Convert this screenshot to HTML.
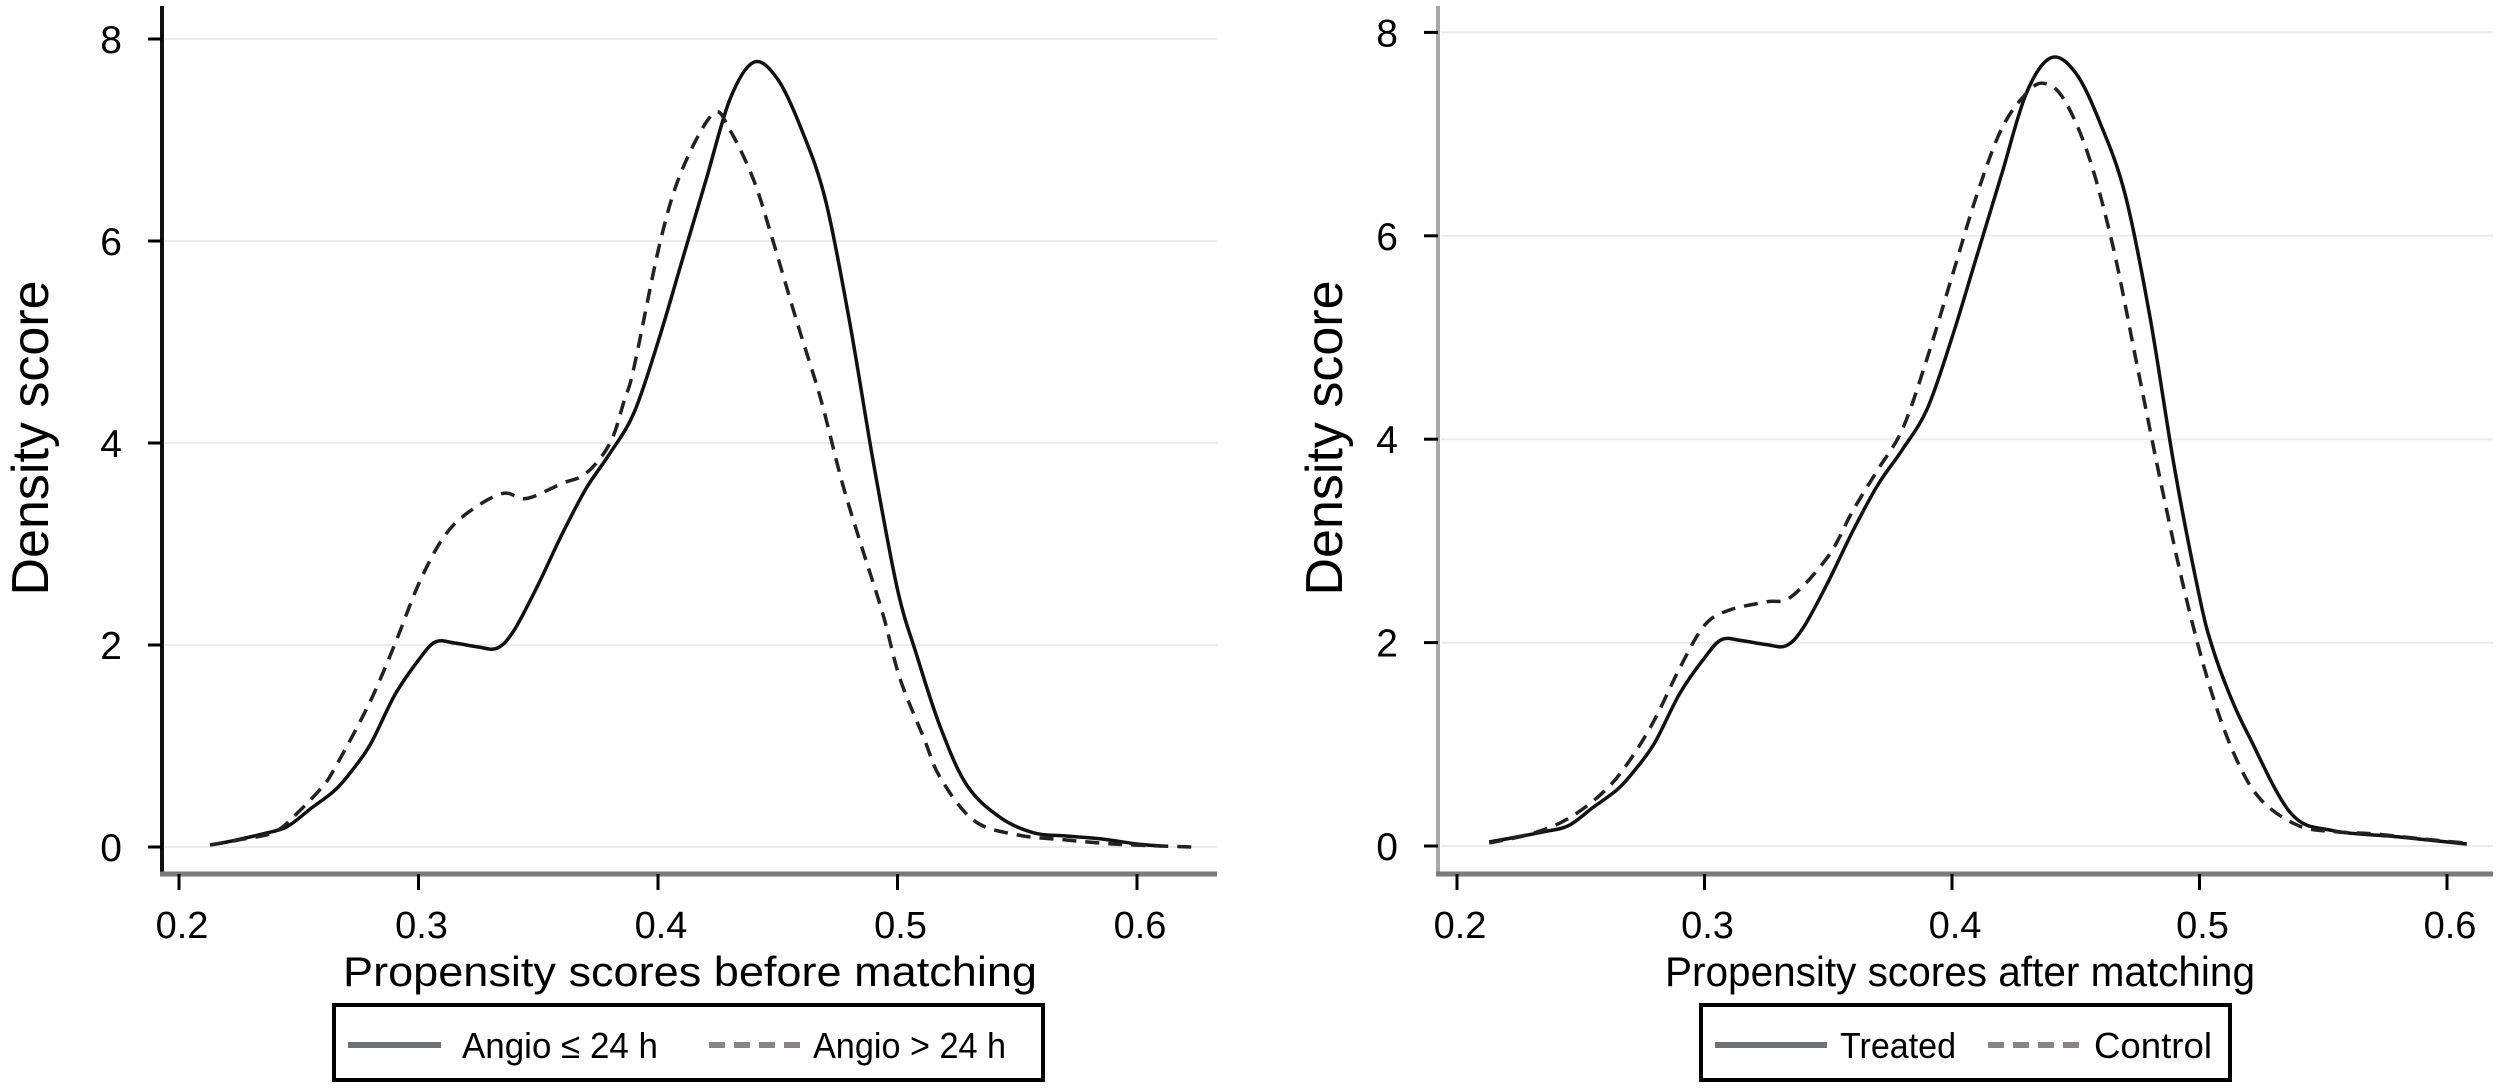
<!DOCTYPE html>
<html><head><meta charset="utf-8"><style>
html,body{margin:0;padding:0;background:#fff;}
svg{display:block;font-family:"Liberation Sans",sans-serif;}
</style></head><body>
<svg id="chart" width="2500" height="1088" viewBox="0 0 2500 1088" xmlns="http://www.w3.org/2000/svg">
<rect x="0" y="0" width="2500" height="1088" fill="#fff"/>
<g id="left"></g>
<g id="right"></g>
</svg>
<script>
const yTicks = [0, 2, 4, 6, 8];
const xTicks = [0.2, 0.3, 0.4, 0.5, 0.6];
const xTickLabels = ["0.2", "0.3", "0.4", "0.5", "0.6"];
// Left panel: Angio <= 24 h (solid)
const leftSolidX = [0.213,0.22,0.235,0.245,0.255,0.265,0.272,0.28,0.29,0.30,0.307,0.315,0.325,0.333,0.34,0.35,0.36,0.37,0.38,0.39,0.40,0.41,0.42,0.43,0.44,0.45,0.46,0.47,0.48,0.49,0.50,0.508,0.518,0.529,0.543,0.557,0.57,0.585,0.60,0.61];
const leftSolidY = [0.02,0.05,0.13,0.2,0.38,0.56,0.75,1.02,1.5,1.85,2.03,2.02,1.98,1.97,2.15,2.6,3.1,3.55,3.9,4.3,5.0,5.8,6.6,7.4,7.77,7.6,7.1,6.4,5.2,3.8,2.55,1.9,1.18,0.61,0.29,0.14,0.11,0.08,0.03,0.01];
// Left panel: Angio > 24 h (dashed)
const leftDashX = [0.213,0.225,0.24,0.25,0.26,0.265,0.279,0.29,0.30,0.31,0.32,0.335,0.345,0.36,0.37,0.38,0.386,0.39,0.401,0.41,0.423,0.43,0.44,0.448,0.458,0.468,0.477,0.486,0.494,0.501,0.511,0.518,0.532,0.55,0.57,0.59,0.61,0.623];
const leftDashY = [0.02,0.07,0.15,0.35,0.6,0.78,1.4,2.0,2.6,3.05,3.3,3.5,3.45,3.6,3.7,4.0,4.43,4.75,6.0,6.7,7.26,7.1,6.6,6.0,5.2,4.43,3.6,2.9,2.3,1.67,1.08,0.68,0.26,0.12,0.07,0.03,0.01,0.0];
// Right panel: Treated (solid)
const rightSolidX = [0.213,0.22,0.235,0.245,0.255,0.265,0.272,0.28,0.29,0.30,0.307,0.315,0.325,0.333,0.34,0.35,0.36,0.37,0.38,0.39,0.40,0.41,0.42,0.43,0.44,0.45,0.46,0.47,0.48,0.49,0.50,0.505,0.512,0.52,0.537,0.554,0.58,0.608];
const rightSolidY = [0.04,0.07,0.14,0.2,0.38,0.56,0.75,1.02,1.5,1.85,2.03,2.02,1.98,1.97,2.15,2.6,3.1,3.55,3.9,4.3,5.0,5.8,6.6,7.4,7.75,7.6,7.1,6.4,5.2,3.7,2.45,1.97,1.5,1.08,0.32,0.15,0.09,0.02];
// Right panel: Control (dashed)
const rightDashX = [0.213,0.23,0.245,0.26,0.27,0.28,0.29,0.30,0.31,0.325,0.335,0.35,0.36,0.37,0.38,0.39,0.40,0.41,0.42,0.43,0.437,0.445,0.455,0.465,0.475,0.485,0.495,0.505,0.515,0.525,0.54,0.555,0.57,0.59,0.607];
const rightDashY = [0.03,0.12,0.27,0.55,0.85,1.25,1.75,2.17,2.32,2.4,2.45,2.85,3.3,3.7,4.1,4.8,5.6,6.4,7.05,7.4,7.5,7.35,6.8,5.9,4.7,3.5,2.4,1.5,0.85,0.45,0.2,0.14,0.12,0.07,0.03];

const NS = "http://www.w3.org/2000/svg";
function mk(parent, tag, attrs, text){
  const e = document.createElementNS(NS, tag);
  for (const k in attrs) e.setAttribute(k, attrs[k]);
  if (text !== undefined) e.textContent = text;
  parent.appendChild(e);
  return e;
}
function smoothPath(pts){
  let d = "M" + pts[0][0].toFixed(1) + "," + pts[0][1].toFixed(1);
  for (let i = 0; i < pts.length - 1; i++){
    const p0 = pts[Math.max(0,i-1)], p1 = pts[i], p2 = pts[i+1], p3 = pts[Math.min(pts.length-1,i+2)];
    const c1x = p1[0] + (p2[0]-p0[0])/6, c1y = p1[1] + (p2[1]-p0[1])/6;
    const c2x = p2[0] - (p3[0]-p1[0])/6, c2y = p2[1] - (p3[1]-p1[1])/6;
    d += " C" + c1x.toFixed(1)+","+c1y.toFixed(1)+" "+c2x.toFixed(1)+","+c2y.toFixed(1)+" "+p2[0].toFixed(1)+","+p2[1].toFixed(1);
  }
  return d;
}

function panel(g, cfg){
  const xs = v => cfg.x0 + (v - 0.2) * cfg.xk;
  const ys = v => cfg.y0 - v * cfg.yk;
  yTicks.forEach(t => {
    const l = mk(g, "line", {x1: cfg.axisX + 3, x2: cfg.axisEnd, y1: ys(t), y2: ys(t), stroke: "#ebebeb", "stroke-width": 2});
    
    
  });
  const ya = mk(g, "line", {x1: cfg.axisX, x2: cfg.axisX, y1: 6, y2: 876, stroke: cfg.yAxisColor, "stroke-width": 4});
  
  
  yTicks.forEach(t => {
    const tk = mk(g, "line", {x1: cfg.axisX - 14, x2: cfg.axisX, y1: ys(t), y2: ys(t), stroke: "#000", "stroke-width": 3});
    
    
    const tl = mk(g, "text", {x: cfg.axisX - 40, y: ys(t) + 14, "font-size": 39, "text-anchor": "end", fill: "#000"}, String(t));
    
    
  });
  const xa = mk(g, "line", {x1: cfg.axisX - 2, x2: cfg.axisEnd, y1: 874, y2: 874, stroke: "#7a7a7a", "stroke-width": 5});
  
  
  xTicks.forEach((t, i) => {
    const tk = mk(g, "line", {x1: xs(t), x2: xs(t), y1: 874, y2: 890, stroke: "#000", "stroke-width": 3});
    
    
    const tl = mk(g, "text", {x: xs(t) + 3, y: 938, "font-size": 38, "text-anchor": "middle", fill: "#000"}, xTickLabels[i]);
    
    
  });
  const yt = mk(g, "text", {x: 0, y: 0, "font-size": 52, "text-anchor": "middle", fill: "#000", transform: "translate(" + cfg.yTitleX + ",438) rotate(-90)"}, "Density score");
  
  
  const xt = mk(g, "text", {x: cfg.xTitleX, y: 986, "font-size": 42, fill: "#000", textLength: cfg.xTitleW, lengthAdjust: "spacingAndGlyphs"}, cfg.xTitle);
  
  
  const sp = cfg.solidX.map((v, i) => [xs(v), ys(cfg.solidY[i])]);
  const s = mk(g, "path", {d: smoothPath(sp), fill: "none", stroke: "#111", "stroke-width": 3.5, "stroke-linejoin": "round"});
  
  
  const dp = cfg.dashX.map((v, i) => [xs(v), ys(cfg.dashY[i])]);
  const dl = mk(g, "path", {d: smoothPath(dp), fill: "none", stroke: "#222", "stroke-width": 3.5, "stroke-dasharray": "14 9"});
  
  
  const L = cfg.legend;
  const lg = mk(g, "g", {});
  
  
  mk(lg, "rect", {x: L.x, y: 1005, width: L.w, height: 75, fill: "#fff", stroke: "#000", "stroke-width": 4});
  const l1 = mk(lg, "line", {x1: L.l1a, x2: L.l1b, y1: 1045, y2: 1045, stroke: "#6e7275", "stroke-width": 6});
  
  
  const t1 = mk(lg, "text", {x: L.t1, y: 1058, "font-size": 36, fill: "#000", textLength: L.t1w, lengthAdjust: "spacingAndGlyphs"}, L.label1);
  
  
  const l2 = mk(lg, "line", {x1: L.l2a, x2: L.l2b, y1: 1045, y2: 1045, stroke: "#8a8585", "stroke-width": 6, "stroke-dasharray": "16 9"});
  
  
  const t2 = mk(lg, "text", {x: L.t2, y: 1058, "font-size": 36, fill: "#000", textLength: L.t2w, lengthAdjust: "spacingAndGlyphs"}, L.label2);
  
  
}

panel(document.getElementById("left"), {
  x0: 179, xk: 2395, y0: 847, yk: 101, axisX: 162, axisEnd: 1217, yAxisColor: "#111", yTitleX: 48,
  xTitle: "Propensity scores before matching", xTitleX: 343, xTitleW: 694,
  solidX: leftSolidX, solidY: leftSolidY, dashX: leftDashX, dashY: leftDashY,
  solidName: "angio-le-24h-line", dashName: "angio-gt-24h-line",
  legend: {x: 334, w: 709, l1a: 348, l1b: 441, t1: 462, t1w: 196, label1: "Angio ≤ 24 h", l2a: 709, l2b: 800, t2: 813, t2w: 193, label2: "Angio > 24 h"}
});
panel(document.getElementById("right"), {
  x0: 1457, xk: 2475, y0: 846, yk: 101.7, axisX: 1438, axisEnd: 2493, yAxisColor: "#a8a8a8", yTitleX: 1342,
  xTitle: "Propensity scores after matching", xTitleX: 1665, xTitleW: 590,
  solidX: rightSolidX, solidY: rightSolidY, dashX: rightDashX, dashY: rightDashY,
  solidName: "treated-line", dashName: "control-line",
  legend: {x: 1701, w: 529, l1a: 1715, l1b: 1827, t1: 1840, t1w: 116, label1: "Treated", l2a: 1988, l2b: 2088, t2: 2094, t2w: 118, label2: "Control"}
});
</script>
</body></html>
